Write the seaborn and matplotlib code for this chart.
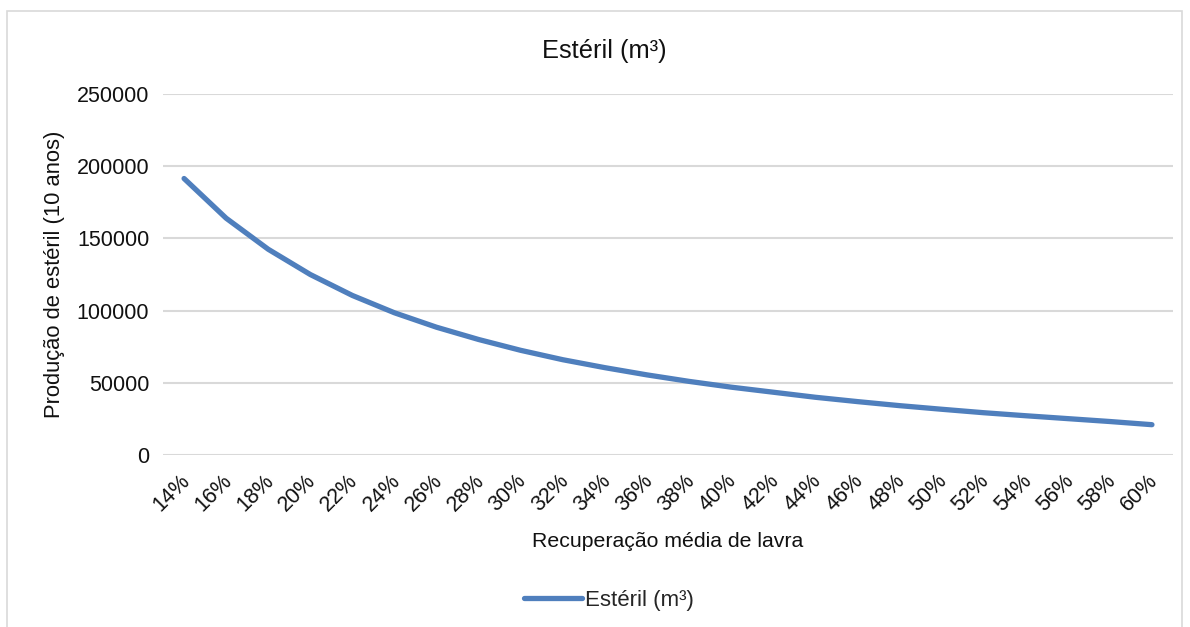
import pandas as pd
import matplotlib
matplotlib.use('Agg')
from matplotlib import pyplot as plt
from matplotlib.patches import Rectangle
from matplotlib.transforms import ScaledTranslation
import seaborn as sns

# recuperação média de lavra vs estéril produzido
recuperacao = ['14%', '16%', '18%', '20%', '22%', '24%', '26%', '28%', '30%', '32%', '34%', '36%',
               '38%', '40%', '42%', '44%', '46%', '48%', '50%', '52%', '54%', '56%', '58%', '60%']
esteril = [191500, 164000, 142500, 125000, 110500, 98500, 88500, 80000, 72500, 66000, 60500, 55500,
           51000, 47000, 43500, 40000, 37000, 34200, 31700, 29300, 27200, 25200, 23200, 21000]
y_ticks = [0, 50000, 100000, 150000, 200000, 250000]

df = pd.DataFrame({'Recuperação': recuperacao, 'Estéril (m³)': esteril})

sns.set_style('white')
plt.rcParams['font.family'] = ['Liberation Sans', 'DejaVu Sans']
txt_color = '#111111'

fig = plt.figure(figsize=(11.9, 6.27), dpi=100)
ax = fig.add_axes([0.137, 0.2743, 0.8487, 0.5757])

sns.lineplot(x='Recuperação', y='Estéril (m³)', data=df, ax=ax, color='#4f7fbd',
             linewidth=3.8, solid_capstyle='round', label='Estéril (m³)', legend=False)

ax.set_xlim(-0.5, len(recuperacao) - 0.5)
ax.set_ylim(0, 250000)
ax.set_yticks(y_ticks)
ax.set_yticklabels([str(v) for v in y_ticks], fontsize=15.5, color=txt_color)
ax.yaxis.grid(True, color='#d9d9d9', linewidth=1.5)
ax.set_axisbelow(True)
for s in ax.spines.values():
    s.set_visible(False)
ax.tick_params(axis='both', length=0)
ax.tick_params(axis='y', pad=10)
ax.tick_params(axis='x', pad=11)
shift = ScaledTranslation(-5 / 100, 0, fig.dpi_scale_trans)
for lbl in ax.get_xticklabels():
    lbl.set_rotation(45)
    lbl.set_ha('right')
    lbl.set_rotation_mode('anchor')
    lbl.set_fontsize(15.5)
    lbl.set_color(txt_color)
    lbl.set_transform(lbl.get_transform() + shift)

ax.set_xlabel('Recuperação média de lavra', fontsize=15.3, color=txt_color, labelpad=12)
ax.set_ylabel('Produção de estéril (10 anos)', fontsize=15.8, color=txt_color, labelpad=8)
fig.text(0.5075, 0.918, 'Estéril (m³)', ha='center', va='center', fontsize=18.3, color=txt_color)

handles, labels = ax.get_legend_handles_labels()
leg = fig.legend(handles, labels, loc='center', bbox_to_anchor=(0.512, 0.042), frameon=False,
                 fontsize=16, handlelength=2.6, handletextpad=0.15)

# chart border like the excel chart area
fig.patches.append(Rectangle((7 / 1190, -0.05), 1175 / 1190, 1.05 - 11 / 627, transform=fig.transFigure,
                             fill=False, edgecolor='#d9d9d9', linewidth=1.2))

plt.savefig('out.png', dpi=100)
plt.close()
